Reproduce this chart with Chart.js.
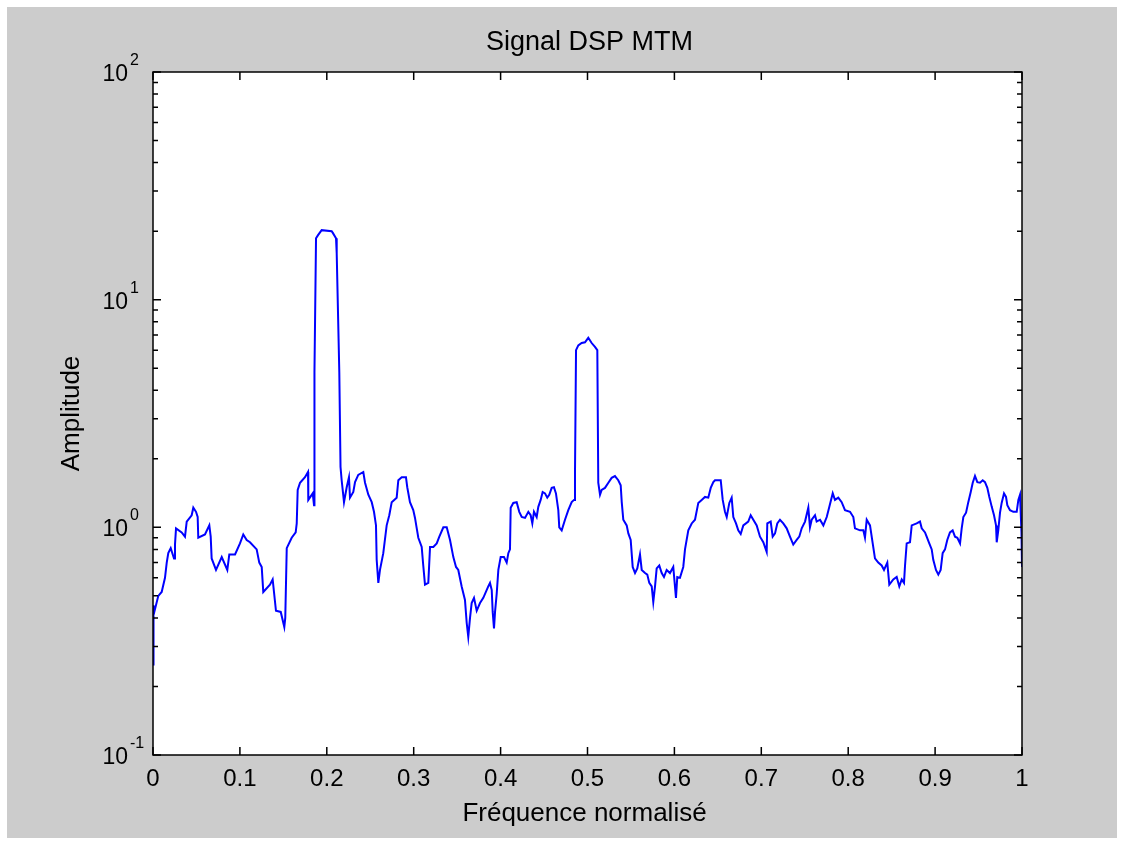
<!DOCTYPE html>
<html lang="fr">
<head>
  <meta charset="UTF-8">
  <title>Signal DSP MTM</title>
  <script src="https://cdn.jsdelivr.net/npm/chart.js"></script>
  <style>
    body {
      margin: 0;
      background-color: #ffffff;
    }
    #wrap {
      position: absolute;
      left: 7px;
      top: 7px;
      width: 1110px;
      height: 831px;
      background-color: #cccccc;
    }
  </style>
</head>
<body>

  <div id="wrap">
    <canvas id="mtmChart" width="1110" height="831"></canvas>
  </div>

  <script>
    // normalised frequency (x) and MTM amplitude (y)
    const freq = [
      0, 0.0006, 0.0012, 0.0061, 0.0100, 0.0138, 0.0158, 0.0176, 0.0204, 0.0242,
      0.0253, 0.0265, 0.0330, 0.0368, 0.0388, 0.0445, 0.0464, 0.0495, 0.0514, 0.0521,
      0.0598, 0.0648, 0.0664, 0.0675, 0.0725, 0.0791, 0.0855, 0.0878, 0.0944, 0.1001,
      0.1039, 0.1078, 0.1116, 0.1193, 0.1223, 0.1251, 0.1269, 0.1346, 0.1377, 0.1415,
      0.1470, 0.1511, 0.1522, 0.1539, 0.1596, 0.1642, 0.1654, 0.1665, 0.1692, 0.1749,
      0.1784, 0.1787, 0.1838, 0.1853, 0.1858, 0.1876, 0.1899, 0.1941, 0.2056, 0.2071,
      0.2106, 0.2114, 0.2144, 0.2158, 0.2171, 0.2198, 0.2229, 0.2255, 0.2267, 0.2305,
      0.2325, 0.2362, 0.2420, 0.2440, 0.2478, 0.2517, 0.2543, 0.2566, 0.2574, 0.2593,
      0.2612, 0.2650, 0.2689, 0.2719, 0.2747, 0.2804, 0.2823, 0.2862, 0.2911, 0.2926,
      0.2957, 0.2995, 0.3015, 0.3035, 0.3053, 0.3092, 0.3110, 0.3130, 0.3168, 0.3188,
      0.3226, 0.3265, 0.3295, 0.3341, 0.3380, 0.3418, 0.3456, 0.3487, 0.3513, 0.3552,
      0.3590, 0.3610, 0.3628, 0.3648, 0.3667, 0.3694, 0.3725, 0.3763, 0.3801, 0.3858,
      0.3878, 0.3898, 0.3909, 0.3924, 0.3936, 0.3955, 0.3974, 0.4001, 0.4039, 0.4070,
      0.4089, 0.4108, 0.4116, 0.4146, 0.4185, 0.4215, 0.4243, 0.4281, 0.4319, 0.4346,
      0.4365, 0.4384, 0.4415, 0.4434, 0.4461, 0.4484, 0.4511, 0.4537, 0.4560, 0.4588,
      0.4614, 0.4637, 0.4664, 0.4675, 0.4703, 0.4741, 0.4779, 0.4818, 0.4845, 0.4856,
      0.4868, 0.4894, 0.4933, 0.4971, 0.5009, 0.5048, 0.5086, 0.5113, 0.5124, 0.5144,
      0.5163, 0.5201, 0.5240, 0.5278, 0.5316, 0.5354, 0.5382, 0.5394, 0.5412, 0.5451,
      0.5470, 0.5497, 0.5520, 0.5547, 0.5573, 0.5604, 0.5624, 0.5662, 0.5688, 0.5711,
      0.5739, 0.5757, 0.5777, 0.5796, 0.5826, 0.5854, 0.5880, 0.5911, 0.5949, 0.5987,
      0.6018, 0.6033, 0.6064, 0.6102, 0.6122, 0.6160, 0.6199, 0.6237, 0.6275, 0.6314,
      0.6352, 0.6390, 0.6418, 0.6448, 0.6467, 0.6533, 0.6556, 0.6582, 0.6602, 0.6632,
      0.6659, 0.6678, 0.6709, 0.6735, 0.6763, 0.6793, 0.6850, 0.6878, 0.6908, 0.6947,
      0.6985, 0.7023, 0.7062, 0.7069, 0.7108, 0.7131, 0.7158, 0.7184, 0.7215, 0.7253,
      0.7292, 0.7330, 0.7368, 0.7407, 0.7437, 0.7465, 0.7503, 0.7541, 0.7560, 0.7580,
      0.7618, 0.7637, 0.7676, 0.7714, 0.7753, 0.7783, 0.7822, 0.7848, 0.7886, 0.7925,
      0.7963, 0.8021, 0.8059, 0.8078, 0.8136, 0.8174, 0.8193, 0.8213, 0.8251, 0.8282,
      0.8308, 0.8346, 0.8385, 0.8412, 0.8450, 0.8473, 0.8519, 0.8558, 0.8588, 0.8616,
      0.8642, 0.8654, 0.8673, 0.8711, 0.8731, 0.8788, 0.8826, 0.8846, 0.8884, 0.8903,
      0.8933, 0.8961, 0.8979, 0.9010, 0.9037, 0.9064, 0.9087, 0.9114, 0.9140, 0.9171,
      0.9202, 0.9229, 0.9256, 0.9287, 0.9306, 0.9325, 0.9356, 0.9382, 0.9410, 0.9433,
      0.9459, 0.9486, 0.9517, 0.9548, 0.9574, 0.9601, 0.9624, 0.9652, 0.9678, 0.9701,
      0.9709, 0.9727, 0.9747, 0.9766, 0.9793, 0.9816, 0.9831, 0.9862, 0.9900, 0.9939,
      0.9958, 0.9977, 0.9994, 1.0000
    ];

    const amp = [
      0.25, 0.455, 0.42, 0.50, 0.52, 0.60, 0.70, 0.77, 0.81, 0.73,
      0.84, 0.99, 0.95, 0.91, 1.06, 1.13, 1.22, 1.17, 1.11, 0.90,
      0.93, 1.02, 0.91, 0.73, 0.65, 0.74, 0.65, 0.76, 0.76, 0.85,
      0.93, 0.88, 0.86, 0.80, 0.70, 0.67, 0.52, 0.56, 0.59, 0.43,
      0.425, 0.365, 0.40, 0.81, 0.90, 0.95, 1.04, 1.46, 1.57, 1.66,
      1.75, 1.32, 1.41, 1.25, 4.8, 18.6, 19.2, 20.2, 20.0, 19.6,
      18.6, 16.0, 4.76, 1.84, 1.61, 1.29, 1.50, 1.66, 1.35, 1.43,
      1.58, 1.70, 1.75, 1.57, 1.39, 1.29, 1.17, 1.02, 0.72, 0.57,
      0.65, 0.77, 1.02, 1.13, 1.29, 1.35, 1.61, 1.66, 1.66, 1.50,
      1.29, 1.19, 1.10, 0.99, 0.90, 0.82, 0.68, 0.56, 0.57, 0.82,
      0.82, 0.85, 0.91, 1.00, 1.00, 0.88, 0.74, 0.67, 0.65, 0.55,
      0.48, 0.38, 0.33, 0.40, 0.465, 0.49, 0.43, 0.465, 0.49, 0.55,
      0.57, 0.53, 0.425, 0.36, 0.425, 0.51, 0.65, 0.74, 0.74, 0.70,
      0.77, 0.80, 1.22, 1.28, 1.29, 1.17, 1.11, 1.10, 1.17, 1.13,
      1.04, 1.17, 1.11, 1.23, 1.32, 1.43, 1.41, 1.35, 1.39, 1.49,
      1.50, 1.41, 1.19, 1.00, 0.97, 1.08, 1.19, 1.29, 1.32, 1.73,
      6.0, 6.3, 6.45, 6.5, 6.8, 6.45, 6.2, 6.0, 1.57, 1.39,
      1.46, 1.49, 1.57, 1.65, 1.68, 1.61, 1.53, 1.29, 1.08, 1.02,
      0.94, 0.88, 0.67, 0.63, 0.66, 0.76, 0.65, 0.63, 0.62, 0.57,
      0.55, 0.47, 0.55, 0.66, 0.68, 0.63, 0.605, 0.65, 0.63, 0.67,
      0.49, 0.605, 0.60, 0.67, 0.80, 0.97, 1.04, 1.08, 1.28, 1.32,
      1.36, 1.35, 1.49, 1.58, 1.61, 1.61, 1.32, 1.17, 1.11, 1.28,
      1.35, 1.11, 1.04, 0.97, 0.935, 1.02, 1.06, 1.13, 1.08, 1.02,
      0.91, 0.86, 0.78, 1.04, 1.06, 0.91, 0.94, 1.04, 1.08, 1.04,
      0.99, 0.91, 0.84, 0.88, 0.91, 0.99, 1.06, 1.22, 1.00, 1.08,
      1.13, 1.06, 1.08, 1.02, 1.11, 1.23, 1.41, 1.32, 1.35, 1.29,
      1.19, 1.17, 1.11, 0.99, 0.97, 0.97, 0.90, 1.08, 1.02, 0.85,
      0.73, 0.70, 0.68, 0.65, 0.70, 0.56, 0.59, 0.605, 0.55, 0.59,
      0.57, 0.68, 0.85, 0.86, 1.02, 1.04, 1.06, 0.99, 0.95, 0.91,
      0.85, 0.80, 0.72, 0.65, 0.62, 0.65, 0.77, 0.80, 0.88, 0.95,
      0.97, 0.91, 0.90, 0.85, 0.99, 1.11, 1.16, 1.29, 1.43, 1.57,
      1.68, 1.58, 1.57, 1.61, 1.58, 1.49, 1.36, 1.23, 1.13, 1.02,
      0.86, 0.97, 1.16, 1.28, 1.41, 1.36, 1.25, 1.19, 1.17, 1.17,
      1.32, 1.39, 0.95, 0.67
    ];

    const xTicks = [0, 0.1, 0.2, 0.3, 0.4, 0.5, 0.6, 0.7, 0.8, 0.9, 1];
    const xTickLabels = ['0', '0.1', '0.2', '0.3', '0.4', '0.5', '0.6', '0.7', '0.8', '0.9', '1'];
    const yDecades = [0.1, 1, 10, 100];
    const yExponents = ['-1', '0', '1', '2'];

    const titleText = 'Signal DSP MTM';
    const xTitle = 'Fréquence normalisé';
    const yTitle = 'Amplitude';

    const FONT = '"Liberation Sans", Arial, sans-serif';

    // MATLAB style axes: white box, inward ticks on all 4 sides, 10^n labels
    const matlabAxes = {
      id: 'matlabAxes',
      beforeDraw(chart) {
        const { ctx, chartArea: a } = chart;
        ctx.save();
        ctx.fillStyle = '#ffffff';
        ctx.fillRect(a.left, a.top, a.right - a.left, a.bottom - a.top);
        ctx.restore();
      },
      afterDraw(chart) {
        const { ctx, chartArea: a, scales: { x, y } } = chart;
        ctx.save();
        ctx.strokeStyle = '#000000';
        ctx.lineWidth = 1.5;
        ctx.strokeRect(a.left, a.top, a.right - a.left, a.bottom - a.top);

        ctx.beginPath();
        xTicks.forEach(v => {
          const px = x.getPixelForValue(v);
          ctx.moveTo(px, a.bottom); ctx.lineTo(px, a.bottom - 8);
          ctx.moveTo(px, a.top); ctx.lineTo(px, a.top + 8);
        });
        yDecades.forEach((d, i) => {
          const py = y.getPixelForValue(d);
          ctx.moveTo(a.left, py); ctx.lineTo(a.left + 8, py);
          ctx.moveTo(a.right, py); ctx.lineTo(a.right - 8, py);
          if (i < yDecades.length - 1) {
            for (let m = 2; m <= 9; m++) {
              const pm = y.getPixelForValue(d * m);
              ctx.moveTo(a.left, pm); ctx.lineTo(a.left + 5, pm);
              ctx.moveTo(a.right, pm); ctx.lineTo(a.right - 5, pm);
            }
          }
        });
        ctx.stroke();

        ctx.fillStyle = '#000000';

        // x tick labels
        ctx.font = '24px ' + FONT;
        ctx.textAlign = 'center';
        ctx.textBaseline = 'alphabetic';
        xTicks.forEach((v, i) => {
          ctx.fillText(xTickLabels[i], x.getPixelForValue(v), a.bottom + 31);
        });

        // y tick labels 10^n
        yDecades.forEach((d, i) => {
          const py = y.getPixelForValue(d);
          ctx.font = '23px ' + FONT;
          ctx.textAlign = 'right';
          ctx.fillText('10', a.left - 25, py + 9);
          ctx.font = '16px ' + FONT;
          ctx.textAlign = 'left';
          ctx.fillText(yExponents[i], a.left - 23, py - 7);
        });

        // titles
        const cx = (a.left + a.right) / 2;
        ctx.font = '27px ' + FONT;
        ctx.textAlign = 'center';
        ctx.fillText(titleText, cx + 2, a.top - 22);
        ctx.font = '26px ' + FONT;
        ctx.fillText(xTitle, cx - 3, a.bottom + 66);

        ctx.translate(63, (a.top + a.bottom) / 2);
        ctx.rotate(-Math.PI / 2);
        ctx.fillText(yTitle, 0, 9);
        ctx.restore();
      }
    };

    const points = freq.map((f, i) => ({ x: f, y: amp[i] }));

    new Chart(document.getElementById('mtmChart'), {
      type: 'line',
      data: {
        datasets: [{
          label: 'MTM',
          data: points,
          borderColor: '#0000ff',
          borderWidth: 2,
          pointRadius: 0,
          tension: 0,
          fill: false
        }]
      },
      options: {
        responsive: false,
        animation: false,
        layout: { padding: { left: 146, top: 65, right: 95, bottom: 83 } },
        plugins: {
          legend: { display: false },
          tooltip: { enabled: false }
        },
        scales: {
          x: { type: 'linear', min: 0, max: 1, display: false },
          y: { type: 'logarithmic', min: 0.1, max: 100, display: false }
        }
      },
      plugins: [matlabAxes]
    });
  </script>

</body>
</html>
